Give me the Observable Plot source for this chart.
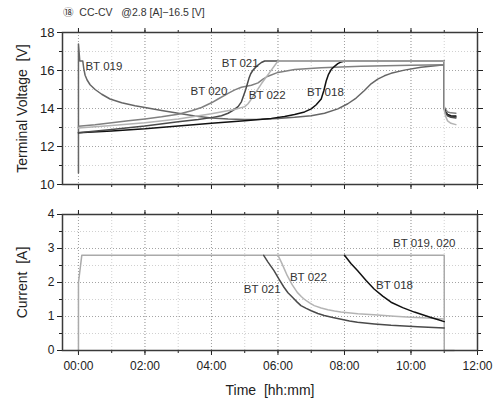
<!DOCTYPE html>
<html>
<head>
<meta charset="utf-8">
<script src="https://cdn.jsdelivr.net/npm/d3@7"></script>
<script src="https://cdn.jsdelivr.net/npm/@observablehq/plot@0.6"></script>
<style>
  html, body { margin: 0; padding: 0; background: #fff; }
  #wrap { position: relative; width: 493px; height: 399px; font-family: "Liberation Sans", Arial, sans-serif; }
  #title { position: absolute; left: 63px; top: 4px; font-size: 10.5px; color: #333; white-space: pre; }
  #title .circ { font-family: "Noto Sans CJK JP", sans-serif; font-size: 10.5px; }
  #topChart { position: absolute; left: 0; top: 0; }
  #botChart { position: absolute; left: 0; top: 200px; }
</style>
</head>
<body>
<div id="wrap">
  <div id="topChart"></div>
  <div id="botChart"></div>
  <div id="title"><span class="circ">⑱</span>  CC-CV   @2.8 [A]−16.5 [V]</div>
</div>
<script>
// ---- data (time in hours, voltage in V, current in A) ----
const hourTicks = [0,1,2,3,4,5,6,7,8,9,10,11,12];
const hourMajor = [0,2,4,6,8,10,12];
const voltMajor = [10,12,14,16,18];
const voltMinor = [11,13,15,17];
const ampMajor = [0,1,2,3,4];
const ampMinor = [0.5,1.5,2.5,3.5];

const vBT018 = [[0,12.72],[1,12.82],[2,12.93],[3,13.08],[4,13.22],[5,13.36],[5.8,13.48],[6.2,13.58],[6.5,13.68],[6.8,13.82],[7.0,13.98],[7.15,14.2],[7.3,14.5],[7.38,14.95],[7.45,15.45],[7.52,15.8],[7.6,16.05],[7.7,16.22],[7.8,16.36],[7.9,16.45],[8.0,16.5],[11,16.5],[11,14.0],[11.04,13.8],[11.1,13.68],[11.2,13.62],[11.35,13.6]];
const vBT019 = [[0,10.6],[0,17.4],[0.04,16.5],[0.13,16.5],[0.16,16.1],[0.2,15.75],[0.26,15.5],[0.35,15.25],[0.5,15.0],[0.7,14.75],[0.95,14.5],[1.3,14.3],[1.7,14.15],[2.0,14.05],[2.5,13.9],[3.0,13.75],[3.5,13.6],[4.0,13.5],[4.5,13.45],[5.0,13.42],[5.5,13.44],[6.0,13.48],[6.5,13.54],[7.0,13.62],[7.4,13.75],[7.8,13.98],[8.1,14.25],[8.35,14.55],[8.6,14.95],[8.8,15.3],[9.0,15.55],[9.2,15.72],[9.4,15.85],[9.8,16.02],[10.3,16.17],[10.8,16.26],[11,16.3],[11,14.0],[11.04,13.8],[11.1,13.65],[11.2,13.58],[11.35,13.55]];
const vBT020 = [[0,13.07],[0.5,13.15],[1,13.25],[1.5,13.35],[2,13.45],[2.5,13.56],[3,13.7],[3.4,13.88],[3.7,14.05],[4.0,14.3],[4.2,14.5],[4.5,14.8],[4.7,14.98],[4.9,15.12],[5.2,15.22],[5.4,15.35],[5.55,15.55],[5.7,15.7],[6.0,15.9],[6.5,16.05],[7.3,16.15],[8.5,16.22],[10,16.27],[11,16.3],[11,14.1],[11.04,13.95],[11.1,13.82],[11.2,13.77],[11.35,13.75]];
const vBT021 = [[0,12.72],[1,12.9],[2,13.08],[3,13.3],[3.6,13.42],[4,13.52],[4.3,13.62],[4.5,13.75],[4.65,13.9],[4.8,14.1],[4.9,14.35],[4.97,14.7],[5.03,15.0],[5.08,15.3],[5.13,15.6],[5.18,15.83],[5.25,16.02],[5.38,16.26],[5.5,16.42],[5.6,16.5],[11,16.5],[11,14.0],[11.04,13.78],[11.1,13.62],[11.2,13.54],[11.35,13.5]];
const vBT022 = [[0,12.98],[1,13.1],[2,13.25],[3,13.45],[4,13.72],[4.4,13.85],[4.7,13.95],[5.0,14.1],[5.1,14.25],[5.2,14.5],[5.5,15.3],[5.75,15.9],[6.0,16.5],[11,16.5],[11,13.9],[11.04,13.6],[11.1,13.35],[11.2,13.22],[11.35,13.15]];

const iBT019_020 = [[0,0],[0,2.0],[0.1,2.8],[11,2.8],[11,0],[11.3,0]];
const iBT021 = [[5.57,2.8],[5.7,2.6],[5.88,2.35],[6.03,2.1],[6.18,1.86],[6.3,1.7],[6.45,1.55],[6.57,1.43],[6.69,1.32],[6.85,1.24],[7.0,1.17],[7.2,1.09],[7.39,1.03],[7.65,0.97],[7.9,0.92],[8.15,0.87],[8.39,0.83],[8.9,0.78],[9.4,0.74],[10.2,0.7],[11,0.66]];
const iBT022 = [[6.0,2.8],[6.1,2.6],[6.19,2.4],[6.28,2.2],[6.43,1.93],[6.58,1.71],[6.7,1.59],[6.8,1.5],[6.95,1.4],[7.09,1.32],[7.3,1.25],[7.5,1.2],[7.7,1.16],[7.89,1.13],[8.4,1.08],[8.89,1.05],[9.5,1.01],[10,0.98],[10.5,0.955],[11,0.93]];
const iBT018 = [[8.0,2.8],[8.2,2.55],[8.39,2.35],[8.65,2.06],[8.89,1.81],[9.15,1.6],[9.4,1.42],[9.75,1.26],[10.1,1.13],[10.35,1.05],[10.6,0.97],[10.8,0.91],[11,0.85]];

const vLabels = [
  {text:"BT 019", t:0.21, v:16.21},
  {text:"BT 021", t:4.31, v:16.37},
  {text:"BT 020", t:3.37, v:14.89},
  {text:"BT 022", t:5.12, v:14.68},
  {text:"BT 018", t:6.87, v:14.84}
];
const iLabels = [
  {text:"BT 019, 020", t:9.46, a:3.15},
  {text:"BT 022", t:6.36, a:2.15},
  {text:"BT 021", t:4.97, a:1.79},
  {text:"BT 018", t:8.95, a:1.91}
];

const fmt = d => String(d).padStart(2, "0") + ":00";
const font = "Liberation Sans, Arial, sans-serif";
const xDomain = [-0.48, 12];
const lineOpts = (stroke) => ({x: d => d[0], y: d => d[1], stroke, strokeWidth: 1.5, strokeLinejoin: "round"});
const gridMinor = {stroke: "#c4c4c4", strokeOpacity: 1, strokeWidth: 0.8, strokeDasharray: "1,2"};
const gridMajor = {stroke: "#9a9a9a", strokeOpacity: 1, strokeWidth: 0.9, strokeDasharray: "1,2"};
const blank = () => "";

function setLabelSize(svg, size) {
  svg.querySelectorAll("g[aria-label$='-axis label']").forEach(g => {
    g.setAttribute("font-size", size);
    g.querySelectorAll("text").forEach(t => t.setAttribute("font-size", size));
  });
}

const chartV = Plot.plot({
  width: 493, height: 200,
  marginTop: 32, marginBottom: 16, marginLeft: 62, marginRight: 16,
  style: {fontFamily: font, fontSize: "12px", background: "transparent", color: "#222"},
  x: {domain: xDomain},
  y: {domain: [10, 18]},
  marks: [
    Plot.gridX(hourTicks, gridMinor),
    Plot.gridX(hourMajor, gridMajor),
    Plot.gridY(voltMinor, gridMinor),
    Plot.gridY(voltMajor, gridMajor),
    Plot.axisX(hourTicks, {anchor: "bottom", tickSize: 3, tickFormat: blank, label: null}),
    Plot.axisX(hourMajor, {anchor: "bottom", tickSize: 5, tickFormat: blank, label: null}),
    Plot.axisX(hourTicks, {anchor: "top", tickSize: 3, tickFormat: blank, label: null}),
    Plot.axisX(hourMajor, {anchor: "top", tickSize: 5, tickFormat: blank, label: null}),
    Plot.axisY(voltMinor, {anchor: "left", tickSize: 3, tickFormat: blank, label: null}),
    Plot.axisY(voltMajor, {anchor: "left", tickSize: 5, tickPadding: 3, fontSize: 13, label: "Terminal Voltage  [V]", labelAnchor: "center", labelArrow: "none", labelOffset: 45}),
    Plot.axisY(voltMinor, {anchor: "right", tickSize: 3, tickFormat: blank, label: null}),
    Plot.axisY(voltMajor, {anchor: "right", tickSize: 5, tickFormat: blank, label: null}),
    Plot.line(vBT019, lineOpts("#666")),
    Plot.line(vBT020, lineOpts("#808080")),
    Plot.line(vBT018, lineOpts("#111")),
    Plot.line(vBT021, lineOpts("#4a4a4a")),
    Plot.line(vBT022, lineOpts("#b4b4b4")),
    Plot.text(vLabels, {x: "t", y: "v", text: "text", textAnchor: "start", fontSize: 11.5, fill: "#333"}),
    Plot.frame({stroke: "#3a3a3a", strokeWidth: 1.5})
  ]
});
setLabelSize(chartV, 14);
document.getElementById("topChart").appendChild(chartV);

const chartI = Plot.plot({
  width: 493, height: 199,
  marginTop: 14, marginBottom: 49, marginLeft: 62, marginRight: 16,
  style: {fontFamily: font, fontSize: "11px", background: "transparent", color: "#222"},
  x: {domain: xDomain},
  y: {domain: [0, 4]},
  marks: [
    Plot.gridX(hourTicks, gridMinor),
    Plot.gridX(hourMajor, gridMajor),
    Plot.gridY(ampMinor, gridMinor),
    Plot.gridY(ampMajor, gridMajor),
    Plot.axisX(hourTicks, {anchor: "bottom", tickSize: 3, tickFormat: blank, label: null}),
    Plot.axisX(hourMajor, {anchor: "bottom", tickSize: 5, tickPadding: 6, tickFormat: fmt, fontSize: 12, label: "Time  [hh:mm]", labelAnchor: "center", labelArrow: "none", labelOffset: 44}),
    Plot.axisX(hourTicks, {anchor: "top", tickSize: 3, tickFormat: blank, label: null}),
    Plot.axisX(hourMajor, {anchor: "top", tickSize: 5, tickFormat: blank, label: null}),
    Plot.axisY(ampMinor, {anchor: "left", tickSize: 3, tickFormat: blank, label: null}),
    Plot.axisY(ampMajor, {anchor: "left", tickSize: 5, tickPadding: 3, fontSize: 12, label: "Current  [A]", labelAnchor: "center", labelArrow: "none", labelOffset: 45}),
    Plot.axisY(ampMinor, {anchor: "right", tickSize: 3, tickFormat: blank, label: null}),
    Plot.axisY(ampMajor, {anchor: "right", tickSize: 5, tickFormat: blank, label: null}),
    Plot.line(iBT019_020, {x: d => d[0], y: d => d[1], stroke: "#aaa", strokeWidth: 1.5}),
    Plot.line(iBT021, lineOpts("#4a4a4a")),
    Plot.line(iBT022, lineOpts("#b4b4b4")),
    Plot.line(iBT018, lineOpts("#111")),
    Plot.text(iLabels, {x: "t", y: "a", text: "text", textAnchor: "start", fontSize: 11.5, fill: "#333"}),
    Plot.frame({stroke: "#3a3a3a", strokeWidth: 1.5})
  ]
});
setLabelSize(chartI, 14);
document.getElementById("botChart").appendChild(chartI);
</script>
</body>
</html>
